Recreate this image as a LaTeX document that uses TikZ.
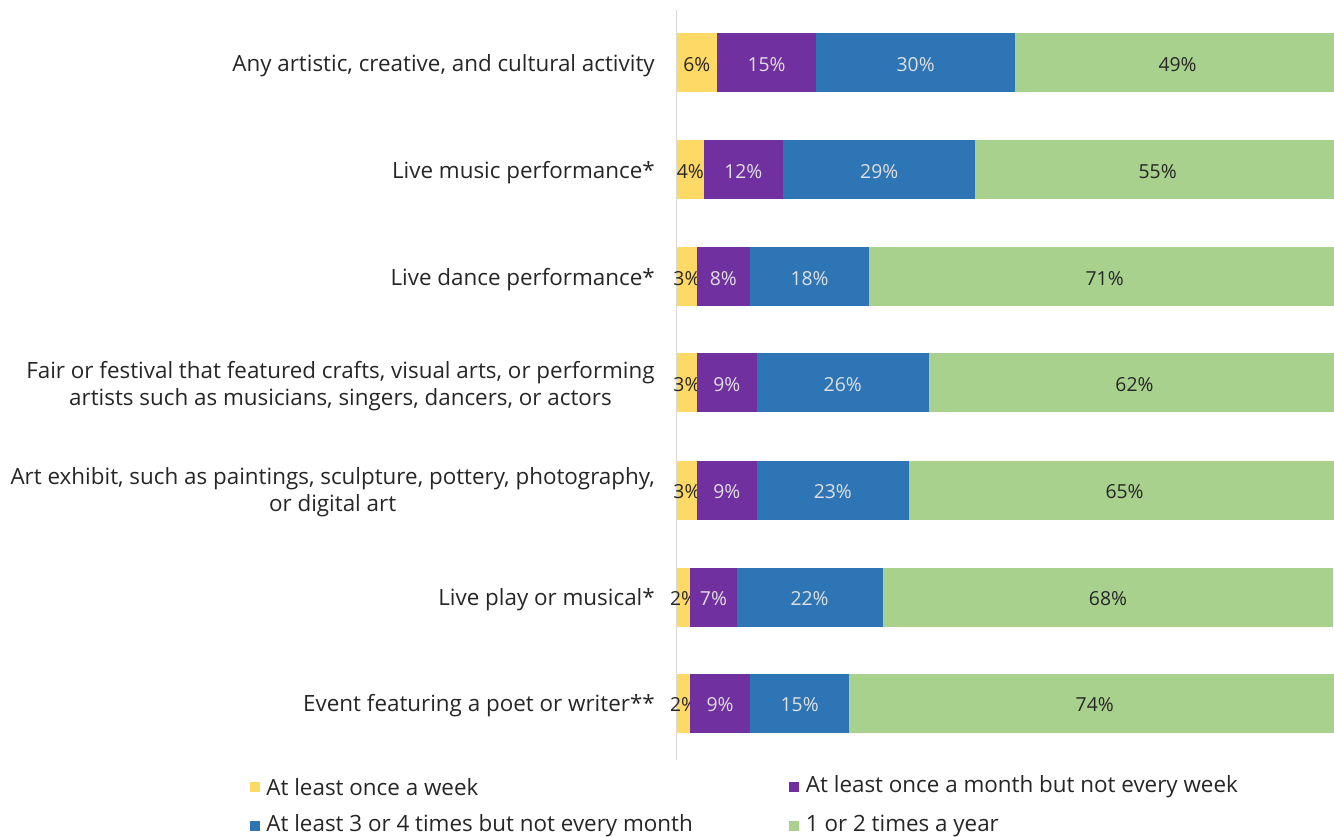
\documentclass[tikz,border=0pt]{standalone}
\usepackage{fontspec}
\setmainfont{Open Sans}
\usetikzlibrary{positioning}

\definecolor{cweek}{HTML}{FFD966}
\definecolor{cmonth}{HTML}{7030A0}
\definecolor{cthree}{HTML}{2E75B6}
\definecolor{cyear}{HTML}{A9D18E}
\definecolor{ctext}{HTML}{262626}
\definecolor{caxis}{HTML}{D9D9D9}

\tikzset{
    seg/.style={minimum height=44.25pt, inner sep=0pt, outer sep=0pt, anchor=west},
    dlbl/.style={text=ctext, font=\fontsize{14.5}{17}\selectfont, inner sep=0pt, yshift=-1.5pt},
    wlbl/.style={text=white!88!black, font=\fontsize{14.5}{17}\selectfont, inner sep=0pt, yshift=-1.5pt},
    wk/.style={seg, fill=cweek, minimum width=#1*4.9725pt, label={[dlbl]center:#1\%}},
    mo/.style={seg, fill=cmonth, minimum width=#1*4.9725pt, label={[wlbl]center:#1\%}},
    th/.style={seg, fill=cthree, minimum width=#1*4.9725pt, label={[wlbl]center:#1\%}},
    yr/.style={seg, fill=cyear, minimum width=#1*4.9725pt, label={[dlbl]center:#1\%}},
    cat/.style={anchor=east, align=center, inner sep=0pt, text=ctext, yshift=-2pt, font=\fontsize{16.8}{20.25}\selectfont},
    key/.style={minimum size=7.5pt, inner sep=0pt, outer sep=0pt},
    keytxt/.style={anchor=west, inner sep=0pt, text=ctext, font=\fontsize{16.8}{20}\selectfont},
}

\begin{document}
\begin{tikzpicture}[x=0.75pt, y=-0.75pt]
    \useasboundingbox (0,0) rectangle (1334,837);

    % axis
    \coordinate (axtop) at (676.5,10);
    \coordinate (axbot) at (676.5,760);
    \draw[caxis, line width=0.9pt] (axtop) -- (axbot);

    % categories
    \node[cat] (lbl1) at (655,63) {Any artistic, creative, and cultural activity};
    \node[cat] (lbl2) at (655,170) {Live music performance*};
    \node[cat] (lbl3) at (655,277) {Live dance performance*};
    \node[cat] (lbl4) at (655,383) {Fair or festival that featured crafts, visual arts, or performing\\artists such as musicians, singers, dancers, or actors};
    \node[cat] (lbl5) at (655,490) {Art exhibit, such as paintings, sculpture, pottery, photography,\\or digital art};
    \node[cat] (lbl6) at (655,597) {Live play or musical*};
    \node[cat] (lbl7) at (655,703) {Event featuring a poet or writer**};

    % bars
    \node[wk=6] (any1) at (677,63) {};
    \node[mo=15, right=0pt of any1] (any2) {};
    \node[th=30, right=0pt of any2] (any3) {};
    \node[yr=49, right=0pt of any3] (any4) {};

    \node[wk=4] (music1) at (677,170) {};
    \node[mo=12, right=0pt of music1] (music2) {};
    \node[th=29, right=0pt of music2] (music3) {};
    \node[yr=55, right=0pt of music3] (music4) {};

    \node[wk=3] (dance1) at (677,277) {};
    \node[mo=8, right=0pt of dance1] (dance2) {};
    \node[th=18, right=0pt of dance2] (dance3) {};
    \node[yr=71, right=0pt of dance3] (dance4) {};

    \node[wk=3] (fair1) at (677,383) {};
    \node[mo=9, right=0pt of fair1] (fair2) {};
    \node[th=26, right=0pt of fair2] (fair3) {};
    \node[yr=62, right=0pt of fair3] (fair4) {};

    \node[wk=3] (art1) at (677,490) {};
    \node[mo=9, right=0pt of art1] (art2) {};
    \node[th=23, right=0pt of art2] (art3) {};
    \node[yr=65, right=0pt of art3] (art4) {};

    \node[wk=2] (play1) at (677,597) {};
    \node[mo=7, right=0pt of play1] (play2) {};
    \node[th=22, right=0pt of play2] (play3) {};
    \node[yr=68, right=0pt of play3] (play4) {};

    \node[wk=2] (poet1) at (677,703) {};
    \node[mo=9, right=0pt of poet1] (poet2) {};
    \node[th=15, right=0pt of poet2] (poet3) {};
    \node[yr=74, right=0pt of poet3] (poet4) {};

    % legend
    \node[key, fill=cweek] (kweek) at (254.5,787) {};
    \node[keytxt, right=5pt of kweek] (tweek) {At least once a week};
    \node[key, fill=cmonth] (kmonth) at (794,787) {};
    \node[keytxt, right=5pt of kmonth] (tmonth) {At least once a month but not every week};
    \node[key, fill=cthree] (kthree) at (254.5,826) {};
    \node[keytxt, right=5pt of kthree] (tthree) {At least 3 or 4 times but not every month};
    \node[key, fill=cyear] (kyear) at (794,826) {};
    \node[keytxt, right=5pt of kyear] (tyear) {1 or 2 times a year};

\end{tikzpicture}
\end{document}
